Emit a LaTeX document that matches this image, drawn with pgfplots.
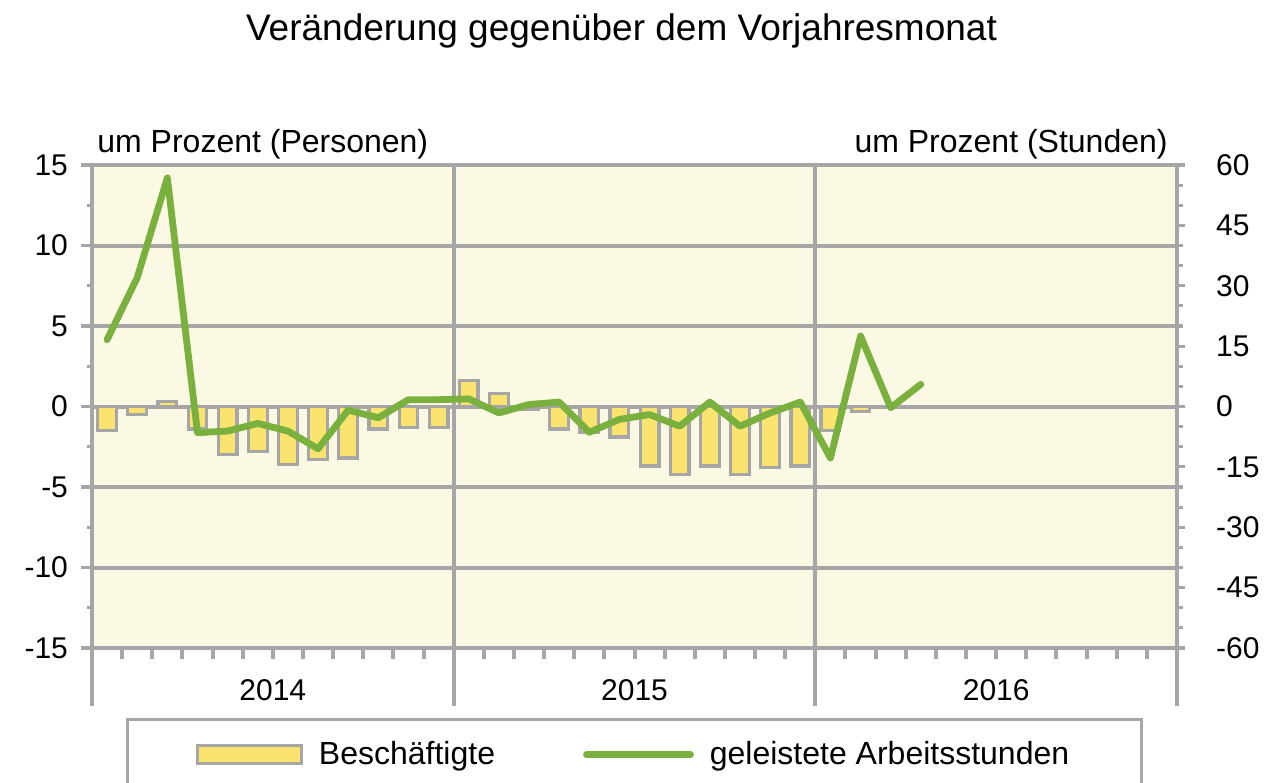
\documentclass[border=0pt]{standalone}
\usepackage{pgfplots}
\pgfplotsset{compat=1.18}
\usepackage{fontspec}
\setmainfont{Liberation Sans}

\definecolor{bgyellow}{RGB}{251,248,227}
\definecolor{barfill}{RGB}{250,227,110}
\definecolor{axgray}{RGB}{166,166,166}
\definecolor{lgreen}{RGB}{122,176,62}

\newcommand{\tickfont}{\fontsize{15}{17}\selectfont}
\newcommand{\lblfont}{\fontsize{16}{18}\selectfont}

\pgfplotsset{
  common/.style={
    width=542.5pt, height=241.5pt, scale only axis,
    xmin=-0.5, xmax=35.5,
    /pgf/number format/assume math mode=true,
    tick label style={font=\tickfont, text=black},
    axis line style={draw=axgray, line width=2.4pt},
    tick style={draw=axgray, line width=1.6pt},
    tick align=outside,
  },
}

\begin{document}
\begin{tikzpicture}
\path[use as bounding box] (-46pt,-67pt) rectangle (593pt,324pt);

% left axis: employed persons (bars)
\begin{axis}[common,
  axis background/.style={fill=bgyellow},
  ymin=-15, ymax=15,
  ytick={-15,-10,...,15},
  minor ytick={-12.5,-7.5,...,12.5},
  major tick length=5.5pt, minor tick length=2.6pt,
  tick pos=left,
  ymajorgrids=true,
  grid style={draw=axgray, line width=2pt},
  yticklabel style={xshift=-3pt},
  xtick={0.5,1.5,...,10.5,12.5,13.5,...,22.5,24.5,25.5,...,34.5},
  xticklabels={},
  x tick style={line width=2pt},
  extra x ticks={-0.5,11.5,23.5,35.5},
  extra x tick labels={},
  extra x tick style={major tick length=29pt, grid=major},
]
\addplot[ybar, bar width=0.62, fill=barfill, draw=axgray, line width=1.6pt]
coordinates {
  (0,-1.5) (1,-0.5) (2,0.3) (3,-1.4) (4,-3.0) (5,-2.8) (6,-3.6) (7,-3.3)
  (8,-3.2) (9,-1.4) (10,-1.3) (11,-1.3)
  (12,1.6) (13,0.8) (14,-0.2) (15,-1.4) (16,-1.6) (17,-1.9) (18,-3.7) (19,-4.2)
  (20,-3.7) (21,-4.2) (22,-3.8) (23,-3.7)
  (24,-1.5) (25,-0.3) (26,-0.05) (27,-0.05)
};
\end{axis}

% right axis: hours worked (line)
\begin{axis}[common,
  axis y line*=right, axis x line=none,
  ymin=-60, ymax=60,
  ytick={-60,-45,...,60},
  minor ytick={-55,-50,-40,-35,-25,-20,-10,-5,5,10,20,25,35,40,50,55},
  major tick length=4pt, minor tick length=3pt,
  yticklabel style={xshift=12pt},
  legend columns=2,
  legend style={at={(0.5,-0.145)}, anchor=north,
    draw=axgray, line width=1.6pt, fill=white,
    inner xsep=34pt, inner ysep=9pt,
    font=\lblfont,
    /tikz/every odd column/.append style={column sep=6pt},
    /tikz/every even column/.append style={column sep=42pt}},
]
\addlegendimage{legend image code/.code={
  \draw[fill=barfill, draw=axgray, line width=1.6pt] (0pt,-4.5pt) rectangle (52pt,4.5pt);}}
\addlegendentry{Beschäftigte}
\addplot[lgreen, line width=3.4pt, line join=round, line cap=round,
  legend image code/.code={\draw[lgreen, line width=3.4pt, line cap=round] (0pt,0pt) -- (52pt,0pt);}]
coordinates {
  (0,16.6) (1,32) (2,56.8) (3,-6.5) (4,-6.1) (5,-4.2) (6,-6.1) (7,-10.5)
  (8,-0.9) (9,-2.8) (10,1.7) (11,1.7)
  (12,1.9) (13,-1.6) (14,0.5) (15,1.1) (16,-6.4) (17,-3.2) (18,-2.0) (19,-4.9)
  (20,1.1) (21,-4.9) (22,-1.6) (23,1.1)
  (24,-12.8) (25,17.5) (26,-0.3) (27,5.5)
};
\addlegendentry{geleistete Arbeitsstunden}
\end{axis}

% titles and year labels
\node[font=\fontsize{18.5}{20}\selectfont] at (264.75pt,308.5pt) {Veränderung gegenüber dem Vorjahresmonat};
\node[font=\lblfont, anchor=base west, inner sep=0pt] at (2.5pt,247.5pt) {um Prozent (Personen)};
\node[font=\lblfont, anchor=base east, inner sep=0pt] at (538pt,247.5pt) {um Prozent (Stunden)};
\node[font=\tickfont, anchor=base] at (90.4pt,-26pt) {2014};
\node[font=\tickfont, anchor=base] at (271.25pt,-26pt) {2015};
\node[font=\tickfont, anchor=base] at (452.1pt,-26pt) {2016};
\end{tikzpicture}
\end{document}
